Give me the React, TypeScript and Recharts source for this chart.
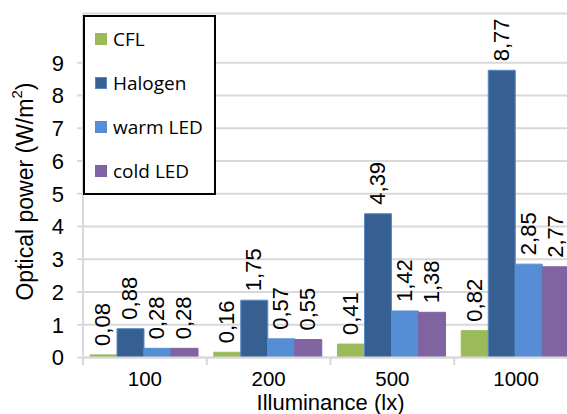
import { BarChart, Bar, XAxis, YAxis, CartesianGrid, Legend, LabelList, Label } from "recharts";

const categories = ["100", "200", "500", "1000"];
const cfl = [0.08, 0.16, 0.41, 0.82];
const halogen = [0.88, 1.75, 4.39, 8.77];
const warmLed = [0.28, 0.57, 1.42, 2.85];
const coldLed = [0.28, 0.55, 1.38, 2.77];
const yTicks = [0, 1, 2, 3, 4, 5, 6, 7, 8, 9];

const SERIES = [
  { key: "cfl", name: "CFL", fill: "#9bbb59", stroke: "#9bbb59" },
  { key: "halogen", name: "Halogen", fill: "#376092", stroke: "#5a89c4" },
  { key: "warm", name: "warm LED", fill: "#558ed5", stroke: "#558ed5" },
  { key: "cold", name: "cold LED", fill: "#8064a2", stroke: "#8064a2" },
];

const data = categories.map((c, i) => ({
  label: c,
  cfl: cfl[i],
  halogen: halogen[i],
  warm: warmLed[i],
  cold: coldLed[i],
}));

const FONT = "'Liberation Sans', Arial, sans-serif";
const GRID = "#d9d9d9";

// eslint-disable-next-line @typescript-eslint/no-explicit-any
function ValueLabel(props: any) {
  const { x, y, width, value } = props;
  const cx = x + width / 2 + 7;
  const ty = y - 9;
  return (
    <text
      x={cx}
      y={ty}
      transform={`rotate(-90 ${cx} ${ty})`}
      textAnchor="start"
      fontSize={22}
      fontFamily={FONT}
      fill="#000"
    >
      {Number(value).toFixed(2).replace(".", ",")}
    </text>
  );
}

// eslint-disable-next-line @typescript-eslint/no-explicit-any
function CategoryTick(props: any) {
  const { x, y, payload } = props;
  const half = payload.offset ?? 0;
  return (
    <g>
      <line x1={x - half} x2={x - half} y1={y - 13.5} y2={y - 6} stroke={GRID} strokeWidth={2} />
      <text x={x} y={y} dy="0.71em" textAnchor="middle" fontSize={20.5} fontFamily={FONT} fill="#000">
        {payload.value}
      </text>
    </g>
  );
}

// eslint-disable-next-line @typescript-eslint/no-explicit-any
function YTitle(props: any) {
  const { viewBox } = props;
  const cx = viewBox.x + 25;
  const cy = viewBox.y + viewBox.height / 2 + 6;
  return (
    <text
      x={cx}
      y={cy}
      transform={`rotate(-90 ${cx} ${cy})`}
      textAnchor="middle"
      dominantBaseline="central"
      fontSize={23}
      fontFamily={FONT}
      fill="#000"
    >
      Optical power (W/m
      <tspan fontSize={15} dy={-9}>2</tspan>
      <tspan dy={9}>)</tspan>
    </text>
  );
}

function LegendBox() {
  return (
    <div
      style={{
        width: 129,
        border: "2px solid #000",
        background: "#fff",
        fontFamily: "'Open Sans', sans-serif",
        fontSize: 19,
      }}
    >
      {SERIES.map((s) => (
        <div key={s.key} style={{ height: 44, display: "flex", alignItems: "center" }}>
          <span
            style={{
              display: "inline-block",
              width: 12,
              height: 12,
              marginLeft: 10,
              marginRight: 6,
              background: s.fill,
              border: s.key === "halogen" ? `1px solid ${s.stroke}` : "none",
              boxSizing: "border-box",
            }}
          />
          <span style={{ color: "#000" }}>{s.name}</span>
        </div>
      ))}
    </div>
  );
}

export default function App() {
  return (
    <div
      style={{
        position: "absolute",
        left: 0,
        top: 0,
        width: 567,
        height: 414,
        overflow: "hidden",
        background: "#fff",
        fontFamily: FONT,
      }}
    >
      <BarChart
        width={600}
        height={414}
        data={data}
        margin={{ top: 13.6, right: 22, bottom: 0, left: 0 }}
        barCategoryGap={7}
        barGap={0}
      >
        <CartesianGrid vertical={false} stroke={GRID} strokeWidth={2} />
        <XAxis
          dataKey="label"
          height={56.5}
          axisLine={{ stroke: GRID, strokeWidth: 2 }}
          tickLine={false}
          tickSize={7}
          tickMargin={6.5}
          tick={<CategoryTick />}
          interval={0}
        >
          <Label
            value="Illuminance (lx)"
            position="insideBottom"
            offset={4.5}
            fontSize={22}
            fontFamily={FONT}
            fill="#000"
          />
        </XAxis>
        <YAxis
          width={83}
          domain={[0, 10.5]}
          ticks={yTicks}
          allowDataOverflow
          axisLine={{ stroke: GRID, strokeWidth: 2 }}
          tickLine={{ stroke: GRID, strokeWidth: 2 }}
          tickSize={6}
          tickMargin={13}
          tick={{ fontSize: 22, fontFamily: FONT, fill: "#000" }}
        >
          <Label content={<YTitle />} />
        </YAxis>
        <Legend
          layout="vertical"
          align="center"
          verticalAlign="middle"
          content={<LegendBox />}
          wrapperStyle={{ left: 83, top: 15, width: 133, height: 180 }}
        />
        {SERIES.map((s) => (
          <Bar
            key={s.key}
            dataKey={s.key}
            name={s.name}
            fill={s.fill}
            stroke={s.stroke}
            strokeWidth={1}
            isAnimationActive={false}
          >
            <LabelList dataKey={s.key} content={<ValueLabel />} />
          </Bar>
        ))}
      </BarChart>
    </div>
  );
}
